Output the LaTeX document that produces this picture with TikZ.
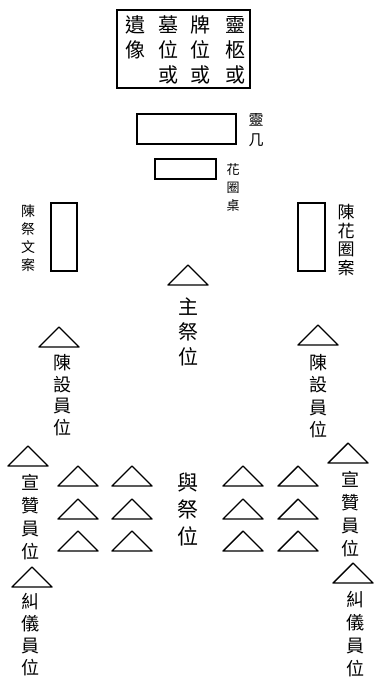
\documentclass[tikz,border=0pt]{standalone}
\usepackage{fontspec}
\newfontfamily\cjk{Noto Sans CJK TC}

\tikzset{
  seatline/.style={line width=1.4pt, line join=round},
  seat/.pic={\draw[seatline] (-20,20) -- (0,0) -- (20,20) -- cycle;},
  tablebox/.style={draw, line width=1.4pt, inner sep=0pt},
  vlabel/.style={inner sep=0pt, align=center},
}
\newcommand{\cjksize}[2]{\fontsize{#1}{#2}\selectfont\cjk}

\begin{document}
\begin{tikzpicture}[x=1pt, y=-1pt]
    \useasboundingbox (0,0) rectangle (377,682);

    % shrine box at the top
    \node[tablebox, minimum width=133pt, minimum height=78pt] (shrine) at (183.5, 49) {};
    \node[vlabel, font=\cjksize{20}{25}] (colA) at (235, 50) {靈\\柩\\或};
    \node[vlabel, font=\cjksize{20}{25}] (colB) at (200, 50) {牌\\位\\或};
    \node[vlabel, font=\cjksize{20}{25}] (colC) at (168, 50) {墓\\位\\或};
    \node[vlabel, font=\cjksize{20}{25}] (colD) at (135, 37.5) {遺\\像};

    % tables
    \node[tablebox, minimum width=99pt, minimum height=30pt] (altar) at (186.5, 129) {};
    \node[vlabel, font=\cjksize{15}{20}] (altarlbl) at (256, 130) {靈\\几};

    \node[tablebox, minimum width=61pt, minimum height=20pt] (wreath) at (185.5, 169) {};
    \node[vlabel, font=\cjksize{13}{18}] (wreathlbl) at (233, 188) {花\\圈\\桌};

    \node[tablebox, minimum width=26pt, minimum height=68pt] (eulogy) at (64, 237) {};
    \node[vlabel, font=\cjksize{14}{18}] (eulogylbl) at (28, 238) {陳\\祭\\文\\案};

    \node[tablebox, minimum width=27pt, minimum height=68pt] (flowers) at (311.5, 237) {};
    \node[vlabel, font=\cjksize{17}{18.5}] (flowerslbl) at (346, 240) {陳\\花\\圈\\案};

    % chief mourner
    \pic (chief) at (188, 265) {seat};
    \node[vlabel, font=\cjksize{20}{25}] (chieflbl) at (188, 332) {主\\祭\\位};

    % attendants
    \pic (setL) at (59, 327) {seat};
    \node[vlabel, font=\cjksize{18}{21.5}] (setLlbl) at (62, 395) {陳\\設\\員\\位};
    \pic (setR) at (318, 325) {seat};
    \node[vlabel, font=\cjksize{18}{22.5}] (setRlbl) at (318, 396) {陳\\設\\員\\位};

    \pic (callL) at (28, 446) {seat};
    \node[vlabel, font=\cjksize{18}{23}] (callLlbl) at (30, 517) {宣\\贊\\員\\位};
    \pic (callR) at (348, 443) {seat};
    \node[vlabel, font=\cjksize{18}{23}] (callRlbl) at (350, 514) {宣\\贊\\員\\位};

    \pic (ritesL) at (32, 567) {seat};
    \node[vlabel, font=\cjksize{18}{22}] (ritesLlbl) at (30, 635) {糾\\儀\\員\\位};
    \pic (ritesR) at (353, 563) {seat};
    \node[vlabel, font=\cjksize{18}{23}] (ritesRlbl) at (355, 634) {糾\\儀\\員\\位};

    % participants
    \foreach \px in {78, 132, 243, 298}
        \foreach \py in {466, 499, 531}
            \pic at (\px, \py) {seat};
    \node[vlabel, font=\cjksize{21}{27}] (guestlbl) at (188, 510) {與\\祭\\位};
\end{tikzpicture}
\end{document}
